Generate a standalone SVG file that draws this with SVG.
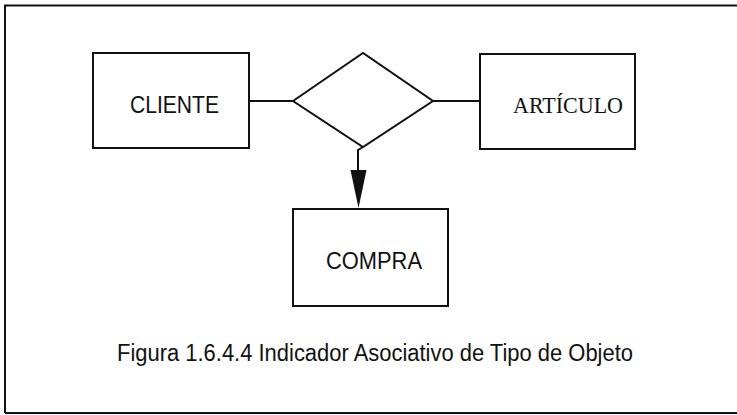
<svg xmlns="http://www.w3.org/2000/svg" width="737" height="415" viewBox="0 0 737 415">
<style>
.shape{fill:#fff;stroke:#111;stroke-width:2}
.conn{stroke:#111;stroke-width:2;fill:none}
.lbl{font-family:"Liberation Sans",Arial,sans-serif;font-size:23px;fill:#111}
.serif{font-family:"Liberation Serif","Times New Roman",serif;font-size:23px;fill:#111}
</style>
<rect width="737" height="415" fill="#fff"/>
<path d="M5,413 L5,5.5 L740,5.5 M5,413 L740,413" class="conn"/>
<g id="connectors">
<line x1="249" y1="101" x2="293" y2="101" class="conn"/>
<line x1="433" y1="101" x2="480" y2="101" class="conn"/>
<path d="M363,147 L358,150 L358,170" class="conn"/>
<path d="M350.5,170 L366.5,170 L358.5,208 Z" fill="#111"/>
</g>
<g id="cliente">
<rect x="93" y="53" width="156" height="95" class="shape"/>
<text x="130" y="113" class="lbl" textLength="89" lengthAdjust="spacingAndGlyphs">CLIENTE</text>
</g>
<g id="relacion">
<polygon points="293,101 363,53 433,101 363,147" class="shape"/>
</g>
<g id="articulo">
<rect x="480" y="54" width="155" height="95" class="shape"/>
<text x="513" y="113" class="serif" textLength="110" lengthAdjust="spacingAndGlyphs">ARTÍCULO</text>
</g>
<g id="compra">
<rect x="293" y="209" width="155" height="97" class="shape"/>
<text x="326" y="269" class="lbl" textLength="96" lengthAdjust="spacingAndGlyphs">COMPRA</text>
</g>
<g id="caption">
<text x="117" y="361" class="lbl" textLength="516" lengthAdjust="spacingAndGlyphs">Figura 1.6.4.4 Indicador Asociativo de Tipo de Objeto</text>
</g>
</svg>
